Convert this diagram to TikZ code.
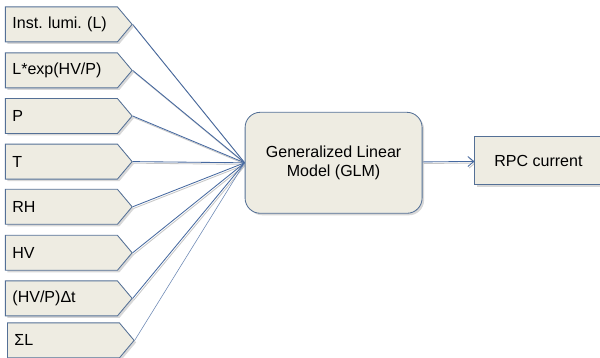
\documentclass[tikz,border=0pt]{standalone}
\usepackage{fontspec}
\setmainfont{Liberation Sans}
\usetikzlibrary{shapes.symbols}
\usetikzlibrary{shadows}
\usetikzlibrary{arrows.meta}
\pgfdeclarelayer{edgelayer}
\pgfdeclarelayer{nodelayer}
\pgfsetlayers{edgelayer,nodelayer,main}
\frenchspacing
\definecolor{boxfill}{RGB}{238,236,226}
\definecolor{boxline}{RGB}{84,112,150}
\definecolor{linkblue}{RGB}{70,105,160}
\tikzstyle{input}=[signal,signal to=east,signal pointer angle=100,fill=boxfill,draw=boxline,line width=0.6pt,anchor=west,text width=2.45cm,inner xsep=0.175cm,minimum height=0.875cm,align=left,font=\fontsize{11.4}{13.7}\selectfont,drop shadow={shadow xshift=0.05cm,shadow yshift=-0.05cm,fill=black!30}]
\tikzstyle{model}=[rectangle,rounded corners=0.38cm,fill=boxfill,draw=boxline,line width=0.6pt,minimum width=4.425cm,minimum height=2.525cm,align=center,font=\fontsize{11.4}{13.7}\selectfont,drop shadow={shadow xshift=0.05cm,shadow yshift=-0.05cm,fill=black!30}]
\tikzstyle{output}=[rectangle,fill=boxfill,draw=boxline,line width=0.6pt,minimum width=3.175cm,minimum height=1.2cm,font=\fontsize{11.4}{13.7}\selectfont,drop shadow={shadow xshift=0.05cm,shadow yshift=-0.05cm,fill=black!30}]
\tikzstyle{link}=[draw=linkblue,line width=0.6pt,preaction={draw=black!22,line width=0.6pt,transform canvas={xshift=0.03cm,yshift=-0.04cm}}]
\tikzstyle{thinlink}=[draw=linkblue!80,line width=0.4pt]
\tikzstyle{result}=[-{Straight Barb[length=0.15cm,width=0.25cm]},style=link]

\begin{document}
\begin{tikzpicture}
	\useasboundingbox (0, 0) rectangle (15, 8.95);
	\clip (0, 0) rectangle (15, 8.95);
	\begin{pgfonlayer}{nodelayer}
		\node [style=input] (0) at (0.125, 8.34) {Inst. lumi. (L)};
		\node [style=input] (1) at (0.125, 7.19) {L*exp(HV/P)};
		\node [style=input] (2) at (0.125, 6.05) {P};
		\node [style=input] (3) at (0.125, 4.91) {T};
		\node [style=input] (4) at (0.125, 3.78) {RH};
		\node [style=input] (5) at (0.125, 2.63) {HV};
		\node [style=input] (6) at (0.125, 1.49) {(HV/P)Δt};
		\node [style=input] (7) at (0.175, 0.44) {ΣL};
		\node [style=model] (8) at (8.34, 4.88) {Generalized Linear\\Model (GLM)};
		\node [style=output] (9) at (13.46, 4.93) {RPC current};
	\end{pgfonlayer}
	\begin{pgfonlayer}{edgelayer}
		\draw [style=link] (0.east) to (8.west);
		\draw [style=link] (1.east) to (8.west);
		\draw [style=link] (2.east) to (8.west);
		\draw [style=link] (3.east) to (8.west);
		\draw [style=link] (4.east) to (8.west);
		\draw [style=link] (5.east) to (8.west);
		\draw [style=link] (6.east) to (8.west);
		\draw [style=thinlink] (7.east) to (8.west);
		\draw [style=result] (8) to (9);
	\end{pgfonlayer}
\end{tikzpicture}
\end{document}
